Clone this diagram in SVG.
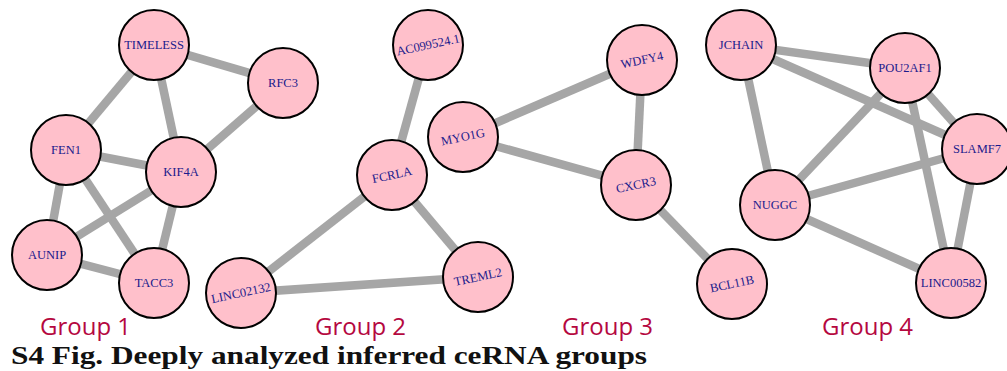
<svg xmlns="http://www.w3.org/2000/svg" width="1007" height="371" viewBox="0 0 1007 371">
<style>
.e{stroke:#a6a6a6;stroke-width:8.5;fill:none}
.n circle{fill:#ffc0cb;stroke:#000;stroke-width:2}
.n text{font-family:"Liberation Serif","Times New Roman",serif;font-size:12.5px;fill:#1a1a8c;text-anchor:middle;dominant-baseline:central}
.g{font-family:"Open Sans",sans-serif;font-size:24px;fill:#b5083f}
.cap{font-family:"Liberation Serif","Times New Roman",serif;font-weight:bold;font-size:26px;fill:#111}
</style>
<rect width="1007" height="371" fill="#fff"/>
<g id="connectors">
<line class="e" x1="154" y1="45" x2="283" y2="83"/>
<line class="e" x1="154" y1="45" x2="66" y2="150"/>
<line class="e" x1="154" y1="45" x2="181" y2="172"/>
<line class="e" x1="283" y1="83" x2="181" y2="172"/>
<line class="e" x1="66" y1="150" x2="181" y2="172"/>
<line class="e" x1="66" y1="150" x2="47" y2="255"/>
<line class="e" x1="66" y1="150" x2="154" y2="283"/>
<line class="e" x1="181" y1="172" x2="47" y2="255"/>
<line class="e" x1="181" y1="172" x2="154" y2="283"/>
<line class="e" x1="47" y1="255" x2="154" y2="283"/>
<line class="e" x1="428" y1="45" x2="392" y2="175"/>
<line class="e" x1="392" y1="175" x2="241" y2="293"/>
<line class="e" x1="392" y1="175" x2="478" y2="277"/>
<line class="e" x1="241" y1="293" x2="478" y2="277"/>
<line class="e" x1="463" y1="137" x2="642" y2="60"/>
<line class="e" x1="463" y1="137" x2="636" y2="185"/>
<line class="e" x1="642" y1="60" x2="636" y2="185"/>
<line class="e" x1="636" y1="185" x2="732" y2="284"/>
<line class="e" x1="741" y1="45" x2="905" y2="68"/>
<line class="e" x1="741" y1="45" x2="977" y2="149"/>
<line class="e" x1="741" y1="45" x2="775" y2="205"/>
<line class="e" x1="905" y1="68" x2="775" y2="205"/>
<line class="e" x1="905" y1="68" x2="977" y2="149"/>
<line class="e" x1="905" y1="68" x2="951" y2="283"/>
<line class="e" x1="977" y1="149" x2="775" y2="205"/>
<line class="e" x1="977" y1="149" x2="951" y2="283"/>
<line class="e" x1="775" y1="205" x2="951" y2="283"/>
</g>
<g id="TIMELESS" class="n"><circle cx="154" cy="45" r="35"/><text x="154" y="45">TIMELESS</text></g>
<g id="RFC3" class="n"><circle cx="283" cy="83" r="35"/><text x="283" y="83">RFC3</text></g>
<g id="FEN1" class="n"><circle cx="66" cy="150" r="35"/><text x="66" y="150">FEN1</text></g>
<g id="KIF4A" class="n"><circle cx="181" cy="172" r="35"/><text x="181" y="172">KIF4A</text></g>
<g id="AUNIP" class="n"><circle cx="47" cy="255" r="35"/><text x="47" y="255">AUNIP</text></g>
<g id="TACC3" class="n"><circle cx="154" cy="283" r="35"/><text x="154" y="283">TACC3</text></g>
<g id="LINC02132" class="n"><circle cx="241" cy="293" r="35"/><text x="241" y="293" transform="rotate(-12 241 293)">LINC02132</text></g>
<g id="AC099524.1" class="n"><circle cx="428" cy="45" r="35"/><text x="428" y="45" transform="rotate(-12 428 45)">AC099524.1</text></g>
<g id="FCRLA" class="n"><circle cx="392" cy="175" r="35"/><text x="392" y="175" transform="rotate(-12 392 175)">FCRLA</text></g>
<g id="TREML2" class="n"><circle cx="478" cy="277" r="35"/><text x="478" y="277" transform="rotate(-12 478 277)">TREML2</text></g>
<g id="MYO1G" class="n"><circle cx="463" cy="137" r="35"/><text x="463" y="137" transform="rotate(-12 463 137)">MYO1G</text></g>
<g id="WDFY4" class="n"><circle cx="642" cy="60" r="35"/><text x="642" y="60" transform="rotate(-12 642 60)">WDFY4</text></g>
<g id="CXCR3" class="n"><circle cx="636" cy="185" r="35"/><text x="636" y="185" transform="rotate(-12 636 185)">CXCR3</text></g>
<g id="BCL11B" class="n"><circle cx="732" cy="284" r="35"/><text x="732" y="284" transform="rotate(-12 732 284)">BCL11B</text></g>
<g id="JCHAIN" class="n"><circle cx="741" cy="45" r="35"/><text x="741" y="45">JCHAIN</text></g>
<g id="POU2AF1" class="n"><circle cx="905" cy="68" r="35"/><text x="905" y="68">POU2AF1</text></g>
<g id="SLAMF7" class="n"><circle cx="977" cy="149" r="35"/><text x="977" y="149">SLAMF7</text></g>
<g id="NUGGC" class="n"><circle cx="775" cy="205" r="35"/><text x="775" y="205">NUGGC</text></g>
<g id="LINC00582" class="n"><circle cx="951" cy="283" r="35"/><text x="951" y="283">LINC00582</text></g>
<g id="labels">
<text class="g" x="40" y="335">Group 1</text>
<text class="g" x="315" y="335">Group 2</text>
<text class="g" x="562" y="335">Group 3</text>
<text class="g" x="822" y="335">Group 4</text>
<text class="cap" x="11" y="364" textLength="636" lengthAdjust="spacingAndGlyphs">S4 Fig. Deeply analyzed inferred ceRNA groups</text>
</g>
</svg>
